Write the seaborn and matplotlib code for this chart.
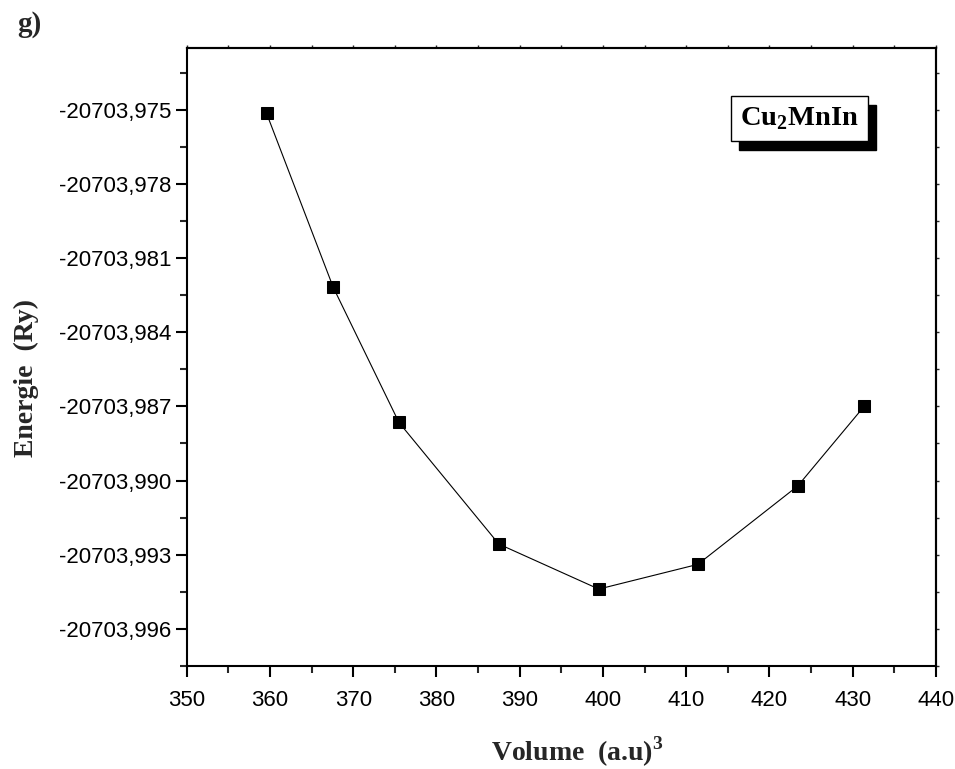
import matplotlib
matplotlib.use("Agg")
import matplotlib.pyplot as plt
import matplotlib.transforms as mtransforms
from matplotlib.patches import Rectangle
from matplotlib.ticker import FuncFormatter, FixedLocator, MultipleLocator
import seaborn as sns
import pandas as pd

volume = [359.6, 367.6, 375.5, 387.5, 399.5, 411.4, 423.4, 431.4]
energy = [-20703.97515, -20703.98218, -20703.98765, -20703.99257,
          -20703.99439, -20703.99339, -20703.99022, -20703.98699]
xticks = [350, 360, 370, 380, 390, 400, 410, 420, 430, 440]
yticks = [-20703.975, -20703.978, -20703.981, -20703.984, -20703.987,
          -20703.990, -20703.993, -20703.996]

sns.set_style("ticks")
plt.rcParams['font.family'] = ['Liberation Sans', 'DejaVu Sans']
plt.rcParams['mathtext.fontset'] = 'custom'
plt.rcParams['mathtext.bf'] = 'Liberation Serif:bold'
plt.rcParams['mathtext.rm'] = 'Liberation Serif:bold'

df = pd.DataFrame({"Volume": volume, "Energie": energy})

fig = plt.figure(figsize=(9.55, 7.69), dpi=100)
ax = fig.add_axes([0.1955, 0.134, 0.7845, 0.8036])

sns.lineplot(data=df, x="Volume", y="Energie", ax=ax, color="black",
             linewidth=0.8, marker="s", markersize=8, markeredgecolor="black",
             markerfacecolor="black", sort=False)

ax.set_xlim(350, 440)
ax.set_ylim(-20703.9975, -20703.9725)
ax.autoscale(False)
ax.xaxis.set_major_locator(FixedLocator(xticks))
ax.xaxis.set_minor_locator(MultipleLocator(5))
ax.yaxis.set_major_locator(FixedLocator(yticks))
ax.yaxis.set_minor_locator(MultipleLocator(0.0015))
ax.yaxis.set_major_formatter(FuncFormatter(lambda v, p: f"{v:.3f}".replace('.', ',')))
ax.xaxis.set_major_formatter(FuncFormatter(lambda v, p: f"{v:.0f}"))

for s in ax.spines.values():
    s.set_visible(True)
    s.set_linewidth(1.5)
    s.set_color("black")

ax.tick_params(axis='both', which='major', direction='out', length=8, width=1.5,
               labelsize=16, colors='black', top=False, right=False)
ax.tick_params(axis='both', which='minor', direction='out', length=5, width=1.5,
               top=False, right=False)
ax.tick_params(axis='x', which='major', pad=9)
ax.tick_params(axis='y', which='major', pad=3)

# small ticks on top and right
secx = ax.secondary_xaxis('top')
secx.xaxis.set_major_locator(MultipleLocator(5))
secx.tick_params(length=2, width=1, labeltop=False, direction='out')
secx.spines['top'].set_linewidth(1.5)
secy = ax.secondary_yaxis('right')
secy.yaxis.set_major_locator(MultipleLocator(0.0015))
secy.tick_params(length=2, width=1, labelright=False, direction='out')
secy.spines['right'].set_linewidth(1.5)

ax.set_xlabel("")
ax.set_ylabel("")

fig.text(577 / 955, 1 - 752 / 769, r"Volume  (a.u)$^{\mathbf{3}}$",
         family='Liberation Serif', fontweight='bold', fontsize=20,
         ha='center', va='center')
fig.text(26 / 955, 1 - 378 / 769, "Energie  (Ry)", family='Liberation Serif',
         fontweight='bold', fontsize=20, rotation=90, ha='center', va='center')
fig.text(17 / 955, 1 - 24 / 769, "g)", family='Liberation Serif',
         fontweight='bold', fontsize=21, ha='left', va='center')

label = r"Cu$_{\mathbf{2}}$MnIn"
t = ax.text(0.818, 0.8856, label, transform=ax.transAxes, family='Liberation Serif',
            fontweight='bold', fontsize=20.5, ha='center', va='center', color='black',
            bbox=dict(boxstyle='square,pad=0.32', facecolor='white', edgecolor='black',
                      linewidth=1), zorder=7)

fig.canvas.draw()
bb = t.get_bbox_patch().get_window_extent()
shadow = Rectangle((bb.x0 + 8, bb.y0 - 9), bb.width, bb.height,
                   transform=mtransforms.IdentityTransform(),
                   facecolor='black', edgecolor='black', zorder=5, clip_on=False)
ax.add_artist(shadow)

fig.savefig("out.png", dpi=100)
